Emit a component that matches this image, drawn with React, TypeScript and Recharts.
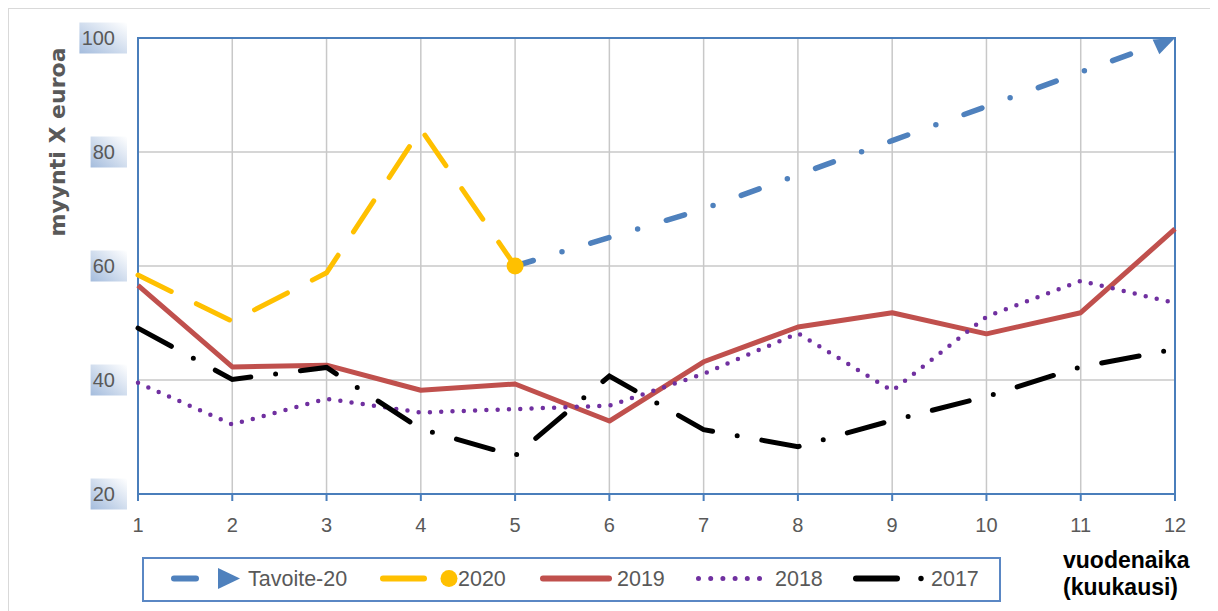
import React from 'react';
import { LineChart, Line, XAxis, YAxis, CartesianGrid, ReferenceArea, Legend } from 'recharts';

const months = [1, 2, 3, 4, 5, 6, 7, 8, 9, 10, 11, 12];
const yTicks = [20, 40, 60, 80, 100];
const tavoite = [null, null, null, null, 60, 65, 70, 76, 82, 88, 94, 100];
const y2020 = [58.4, 50.3, 58.8, 84, 60, null, null, null, null, null, null, null];
const y2019 = [56.6, 42.3, 42.6, 38.2, 39.3, 32.8, 43.2, 49.3, 51.8, 48.1, 51.8, 66.5];
const y2018 = [39.5, 32.2, 36.7, 34.3, 34.9, 35.5, 41.1, 48.2, 38.1, 51.1, 57.4, 53.5];
const y2017 = [49.1, 40.1, 42.2, 31.4, 26.7, 40.7, 31.3, 28.3, 32.9, 37.1, 42.3, 45.4];

const rows = months.map((m, i) => ({
  month: m,
  tavoite: tavoite[i],
  y2020: y2020[i],
  y2019: y2019[i],
  y2018: y2018[i],
  y2017: y2017[i],
}));

const BLUE = '#4f81bd';
const YELLOW = '#ffc000';
const RED = '#c0504d';
const PURPLE = '#7030a0';
const FRAME = '#4a7ebb';
const TEXT = '#595959';
const FONT = '"Liberation Sans", Arial, sans-serif';

const W = 1204;
const H = 610;

const YTick = (props: any) => {
  const { x, y, payload } = props;
  const label = String(payload.value);
  const w = label.length * 11.2;
  const id = `ytb-${payload.value}`;
  return (
    <g>
      <defs>
        <linearGradient id={id} x1="0" y1="1" x2="1" y2="0">
          <stop offset="0" stopColor="#a4bcdd" />
          <stop offset="1" stopColor="#ffffff" />
        </linearGradient>
      </defs>
      <rect x={x - w - 2} y={y - 15.5} width={w + 14} height={31} fill={`url(#${id})`} />
      <text x={x} y={y} textAnchor="end" dominantBaseline="central" fill={TEXT} fontSize={20} fontFamily={FONT}>
        {label}
      </text>
    </g>
  );
};

// circle marker only on the last 2020 point
const yellowDot = (p: any) => {
  if (p.index !== 4) return <g key={`yd-${p.index}`} />;
  return <circle key="yd" cx={p.cx} cy={p.cy} r={8.5} fill={YELLOW} />;
};

// arrow head at the end of the target line
const arrowDot = (p: any) => {
  if (p.index !== 11) return <g key={`ad-${p.index}`} />;
  const a = (-25 * Math.PI) / 180;
  const len = 21, half = 8;
  const bx = p.cx - len * Math.cos(a), by = p.cy - len * Math.sin(a);
  const nx = -Math.sin(a) * half, ny = Math.cos(a) * half;
  const pts = `${p.cx},${p.cy} ${bx + nx},${by + ny} ${bx - nx},${by - ny}`;
  return <polygon key="ad" points={pts} fill={BLUE} />;
};

const LegendBox = () => {
  const cy = 21.5;
  const txt = { fill: TEXT, fontSize: 21.5, fontFamily: FONT, dominantBaseline: 'central' as const };
  return (
    <svg width={859} height={45} style={{ display: 'block' }}>
      <rect x={1} y={1} width={857} height={43} fill="#fff" stroke="#5a87c4" strokeWidth={2} />
      <line x1={32} y1={cy} x2={54} y2={cy} stroke={BLUE} strokeWidth={6} strokeLinecap="round" />
      <polygon points={`76,11 98,${cy} 76,32`} fill={BLUE} />
      <text x={106} y={cy} {...txt}>Tavoite-20</text>
      <line x1={241} y1={cy} x2={282} y2={cy} stroke={YELLOW} strokeWidth={6} strokeLinecap="round" />
      <circle cx={307} cy={cy} r={8.5} fill={YELLOW} />
      <text x={316} y={cy} {...txt}>2020</text>
      <line x1={401} y1={cy} x2={467} y2={cy} stroke={RED} strokeWidth={6} strokeLinecap="round" />
      <text x={475} y={cy} {...txt}>2019</text>
      <line x1={556.5} y1={cy} x2={618} y2={cy} stroke={PURPLE} strokeWidth={5} strokeLinecap="round" strokeDasharray="0 12.2" />
      <text x={633} y={cy} {...txt}>2018</text>
      <line x1={714} y1={cy} x2={755} y2={cy} stroke="#000" strokeWidth={6} strokeLinecap="round" />
      <circle cx={779} cy={cy} r={2.7} fill="#000" />
      <text x={789} y={cy} {...txt}>2017</text>
    </svg>
  );
};

export default function App() {
  return (
    <div style={{ position: 'relative', width: W, height: H, border: '1px solid #d9d9d9', background: '#fff' }}>
      <LineChart width={W} height={H} data={rows} margin={{ top: 29, right: 38, bottom: 40, left: 39 }}>
        <CartesianGrid stroke="#c8c8c8" strokeWidth={1.5} />
        <XAxis
          dataKey="month"
          type="number"
          domain={[1, 12]}
          ticks={months}
          interval={0}
          height={40}
          axisLine={{ stroke: FRAME, strokeWidth: 2 }}
          tickLine={{ stroke: FRAME, strokeWidth: 2 }}
          tickSize={7}
          tickMargin={17}
          tick={{ fill: TEXT, fontSize: 20, fontFamily: FONT }}
        />
        <YAxis
          domain={[20, 100]}
          ticks={yTicks}
          interval={0}
          width={90}
          axisLine={false}
          tickLine={false}
          tickSize={0}
          tickMargin={23}
          tick={<YTick />}
        />
        <ReferenceArea x1={1} x2={12} y1={20} y2={100} fill="none" fillOpacity={0} stroke={FRAME} strokeWidth={2} />
        <Line
          dataKey="tavoite"
          stroke={BLUE}
          strokeWidth={5.5}
          strokeDasharray="19 30 0 30"
          strokeLinecap="round"
          dot={arrowDot}
          activeDot={false}
          isAnimationActive={false}
        />
        <Line
          dataKey="y2020"
          stroke={YELLOW}
          strokeWidth={5}
          strokeDasharray="37 28"
          strokeLinecap="round"
          dot={yellowDot}
          activeDot={false}
          isAnimationActive={false}
        />
        <Line
          dataKey="y2019"
          stroke={RED}
          strokeWidth={5}
          strokeLinejoin="round"
          dot={false}
          activeDot={false}
          isAnimationActive={false}
        />
        <Line
          dataKey="y2018"
          stroke={PURPLE}
          strokeWidth={4.5}
          strokeDasharray="0 11.3"
          strokeLinecap="round"
          dot={false}
          activeDot={false}
          isAnimationActive={false}
        />
        <Line
          dataKey="y2017"
          stroke="#000"
          strokeWidth={5}
          strokeDasharray="38 25 0 25"
          strokeLinecap="round"
          dot={false}
          activeDot={false}
          isAnimationActive={false}
        />
        <Legend content={<LegendBox />} wrapperStyle={{ left: 133, top: 548, width: 859, height: 45 }} />
      </LineChart>
      <div
        style={{
          position: 'absolute',
          left: 47.5,
          top: 133,
          transform: 'translate(-50%, -50%) rotate(-90deg)',
          whiteSpace: 'nowrap',
          fontFamily: '"DejaVu Sans", sans-serif',
          fontWeight: 'bold',
          fontSize: 22,
          color: TEXT,
        }}
      >
        myynti X euroa
      </div>
      <div
        style={{
          position: 'absolute',
          left: 1054,
          top: 538,
          fontFamily: FONT,
          fontWeight: 'bold',
          fontSize: 23,
          lineHeight: '27px',
          color: '#000',
        }}
      >
        vuodenaika
        <br />
        (kuukausi)
      </div>
    </div>
  );
}
